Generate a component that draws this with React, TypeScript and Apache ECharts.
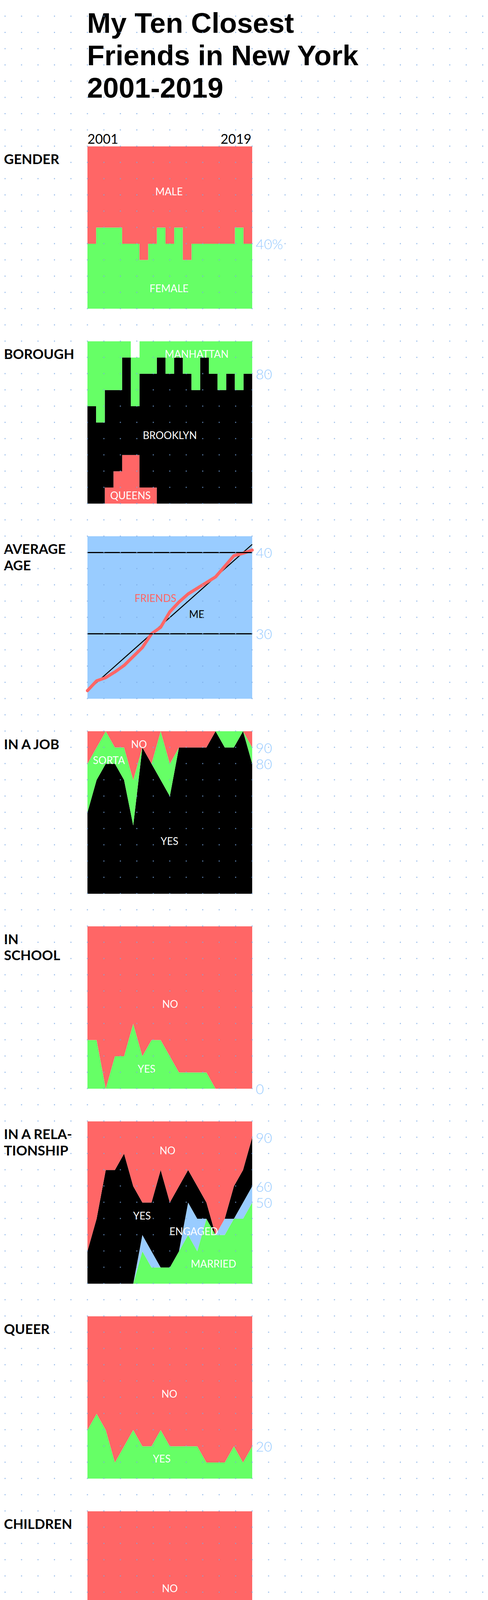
import { useEffect, useRef } from "react";
import * as echarts from "echarts";

// ---- data ----
const years = [
  "2001", "2002", "2003", "2004", "2005", "2006", "2007", "2008", "2009", "2010",
  "2011", "2012", "2013", "2014", "2015", "2016", "2017", "2018", "2019",
];
// band edges for the stepped panels: one more edge than there are years
const yearEdges = [...years, "2020"];

const titleLines = ["My Ten Closest", "Friends in New York", "2001-2019"];

const genderFemale = [40, 50, 50, 50, 40, 40, 30, 40, 50, 40, 50, 30, 40, 40, 40, 40, 40, 50, 40];
const genderMale = [60, 50, 50, 50, 60, 60, 70, 60, 50, 60, 50, 70, 60, 60, 60, 60, 60, 50, 60];
const genderTicks = [40];

const boroughQueens = [0, 0, 10, 20, 30, 30, 10, 10, 0, 0, 0, 0, 0, 0, 0, 0, 0, 0, 0];
const boroughBrooklyn = [60, 50, 60, 50, 60, 30, 70, 70, 90, 80, 90, 80, 70, 90, 80, 70, 80, 70, 80];
const boroughManhattan = [40, 50, 30, 30, 10, 30, 20, 20, 10, 20, 10, 20, 30, 10, 20, 30, 20, 30, 20];
const boroughOther = [0, 0, 0, 0, 0, 10, 0, 0, 0, 0, 0, 0, 0, 0, 0, 0, 0, 0, 0];
const boroughTicks = [80];

const ageMe = [23, 24, 25, 26, 27, 28, 29, 30, 31, 32, 33, 34, 35, 36, 37, 38, 39, 40, 41];
const ageFriends = [23.0, 24.2, 24.6, 25.3, 26.1, 27.2, 28.3, 30.0, 30.8, 32.7, 33.9, 34.9, 35.6, 36.3, 37.0, 38.3, 39.6, 39.9, 40.3];
const ageTicks = [30, 40];

const jobYes = [50, 70, 80, 80, 70, 42, 90, 80, 70, 60, 90, 90, 90, 90, 100, 90, 90, 100, 80];
const jobSorta = [30, 20, 20, 10, 20, 28, 0, 0, 30, 20, 0, 0, 0, 0, 0, 10, 10, 0, 10];
const jobNo = [20, 10, 0, 10, 10, 30, 10, 20, 0, 20, 10, 10, 10, 10, 0, 0, 0, 0, 10];
const jobTicks = [80, 90];

const schoolYes = [30, 30, 0, 20, 20, 40, 20, 30, 30, 20, 10, 10, 10, 10, 0, 0, 0, 0, 0];
const schoolNo = [70, 70, 100, 80, 80, 60, 80, 70, 70, 80, 90, 90, 90, 90, 100, 100, 100, 100, 100];
const schoolTicks = [0];

const relMarried = [0, 0, 0, 0, 0, 0, 20, 10, 10, 10, 20, 30, 20, 40, 30, 30, 40, 40, 50];
const relEngaged = [0, 0, 0, 0, 0, 0, 10, 10, 0, 0, 0, 20, 20, 0, 0, 10, 0, 10, 10];
const relYes = [20, 40, 70, 70, 80, 60, 20, 30, 60, 40, 40, 20, 20, 10, 0, 0, 20, 20, 30];
const relNo = [80, 60, 30, 30, 20, 40, 50, 50, 30, 50, 40, 30, 40, 50, 70, 60, 40, 30, 10];
const relTicks = [50, 60, 90];

const queerYes = [30, 40, 30, 10, 20, 30, 20, 20, 30, 20, 20, 20, 20, 10, 10, 10, 20, 10, 20];
const queerNo = [70, 60, 70, 90, 80, 70, 80, 80, 70, 80, 80, 80, 80, 90, 90, 90, 80, 90, 80];
const queerTicks = [20];

const childYes = [0, 0, 0, 0, 0, 0, 0, 0, 0, 0, 0, 0, 0, 0, 0, 0, 40, 30, 30];
const childNo = [100, 100, 100, 100, 100, 100, 100, 100, 100, 100, 100, 100, 100, 100, 100, 100, 60, 70, 70];
const childTicks = [30];

// ---- styles / layout ----
const RED = "#ff6666";
const GREEN = "#66ff66";
const BLUE = "#99ccff";
const BLACK = "#000000";
const WHITE = "#ffffff";
const FONT = "Lato, 'Noto Sans', sans-serif";
const TITLE_FONT = "'Liberation Sans', Arial, sans-serif";

const PAGE_W = 1250;
const PAGE_H = 4391;
const ROW = 41.6; // dot pattern pitch, vertical
const COL = 42.2; // dot pattern pitch, horizontal
const PLOT_LEFT = 224;
const PLOT_W = 422;
const PLOT_H = 10 * ROW;
const FIRST_TOP = 9 * ROW;
const STEP = 12 * ROW;
const DOT_COLOR = "rgba(120,168,228,0.8)";

const panelTop = (k: number) => FIRST_TOP + STEP * k;

type Inner = [string, number, number, string?];

const panels: {
  label: string[];
  kind: "step" | "area" | "age";
  ticks: number[];
  suffix?: string;
  inner: Inner[];
}[] = [
  { label: ["GENDER"], kind: "step", ticks: genderTicks, suffix: "%", inner: [["MALE", 0.495, 0.278], ["FEMALE", 0.495, 0.875]] },
  { label: ["BOROUGH"], kind: "step", ticks: boroughTicks, inner: [["MANHATTAN", 0.663, 0.077], ["BROOKLYN", 0.5, 0.578], ["QUEENS", 0.261, 0.949]] },
  { label: ["AVERAGE", "AGE"], kind: "age", ticks: ageTicks, inner: [["FRIENDS", 0.413, 0.381, RED], ["ME", 0.663, 0.478, BLACK]] },
  { label: ["IN A JOB"], kind: "area", ticks: jobTicks, inner: [["SORTA", 0.13, 0.178], ["NO", 0.313, 0.08], ["YES", 0.498, 0.676]] },
  { label: ["IN", "SCHOOL"], kind: "area", ticks: schoolTicks, inner: [["NO", 0.502, 0.478], ["YES", 0.359, 0.877]] },
  { label: ["IN A RELA-", "TIONSHIP"], kind: "area", ticks: relTicks, inner: [["NO", 0.486, 0.18], ["YES", 0.331, 0.58], ["ENGAGED", 0.645, 0.676], ["MARRIED", 0.765, 0.877]] },
  { label: ["QUEER"], kind: "area", ticks: queerTicks, inner: [["NO", 0.497, 0.476], ["YES", 0.451, 0.877]] },
  { label: ["CHILDREN"], kind: "area", ticks: childTicks, inner: [["NO", 0.5, 0.474], ["YES", 0.913, 0.878]] },
];

// each year holds its value until the next band edge; the last band closes on the extra edge
const toSteps = (arr: number[]) => arr.concat([arr[arr.length - 1]]);

function stepSeries(k: number, name: string, data: number[], color: string) {
  return {
    type: "line",
    name,
    xAxisIndex: k,
    yAxisIndex: k,
    stack: "s" + k,
    step: "end",
    data: toSteps(data),
    symbol: "none",
    lineStyle: { width: 0 },
    areaStyle: { color, opacity: 1 },
    itemStyle: { color },
    silent: true,
  };
}

function areaSeries(k: number, name: string, data: number[], color: string) {
  return {
    type: "line",
    name,
    xAxisIndex: k,
    yAxisIndex: k,
    stack: "s" + k,
    data,
    symbol: "none",
    lineStyle: { width: 0 },
    areaStyle: { color, opacity: 1 },
    itemStyle: { color },
    silent: true,
  };
}

function text(
  t: string,
  x: number,
  y: number,
  size: number,
  weight: number,
  fill: string,
  align = "left",
  family = FONT
) {
  return {
    type: "text",
    x,
    y,
    silent: true,
    z: 10,
    style: {
      text: t,
      fill,
      fontSize: size,
      fontWeight: weight,
      fontFamily: family,
      align,
      textAlign: align,
      verticalAlign: "middle",
      textVerticalAlign: "middle",
    },
  };
}

function buildOption() {
  const grid: any[] = [];
  const xAxis: any[] = [];
  const yAxis: any[] = [];
  const graphic: any[] = [];

  panels.forEach((p, k) => {
    const top = panelTop(k);
    grid.push({
      left: PLOT_LEFT,
      top,
      width: PLOT_W,
      height: PLOT_H,
      show: p.kind === "age",
      backgroundColor: p.kind === "age" ? BLUE : "transparent",
      borderWidth: 0,
    });
    xAxis.push({
      gridIndex: k,
      type: "category",
      data: p.kind === "step" ? yearEdges : years,
      boundaryGap: false,
      show: false,
    });
    yAxis.push({
      gridIndex: k,
      type: "value",
      min: p.kind === "age" ? 22 : 0,
      max: p.kind === "age" ? 42 : 100,
      position: "right",
      axisLine: { show: false },
      axisTick: { show: false },
      splitLine: { show: false },
      axisLabel: {
        customValues: p.ticks,
        formatter: (v: number) => `${v}${p.suffix ?? ""}`,
        color: BLUE,
        fontSize: 36,
        fontWeight: 300,
        fontFamily: FONT,
        margin: 9,
      },
    });

    p.label.forEach((line, i) => {
      graphic.push(text(line, 10, top + 31.5 + i * ROW, 35, 700, BLACK));
    });
    p.inner.forEach(([t, rx, ry, c]) => {
      graphic.push(text(t, PLOT_LEFT + rx * PLOT_W, top + ry * PLOT_H, 26, 400, c ?? WHITE, "center"));
    });
  });

  // title baselines sit on every second dot row
  titleLines.forEach((line, i) => {
    graphic.push(text(line, PLOT_LEFT - 1, 2 * ROW * (i + 1) - 25, 73, 700, BLACK, "left", TITLE_FONT));
  });
  graphic.push(text(years[0], PLOT_LEFT, FIRST_TOP - 20, 34, 400, BLACK, "left"));
  graphic.push(text(years[years.length - 1], PLOT_LEFT + PLOT_W - 2, FIRST_TOP - 20, 34, 400, BLACK, "right"));

  const series: any[] = [
    stepSeries(0, "Female", genderFemale, GREEN),
    stepSeries(0, "Male", genderMale, RED),

    stepSeries(1, "Queens", boroughQueens, RED),
    stepSeries(1, "Brooklyn", boroughBrooklyn, BLACK),
    stepSeries(1, "Manhattan", boroughManhattan, GREEN),
    stepSeries(1, "Other", boroughOther, WHITE),

    {
      type: "line",
      name: "Me",
      xAxisIndex: 2,
      yAxisIndex: 2,
      data: ageMe,
      symbol: "none",
      lineStyle: { color: BLACK, width: 2.5 },
      silent: true,
      markLine: {
        silent: true,
        symbol: ["none", "none"],
        label: { show: false },
        lineStyle: { color: BLACK, width: 3, type: "solid" },
        data: ageTicks.map((v) => ({ yAxis: v })),
      },
    },
    {
      type: "line",
      name: "Friends",
      xAxisIndex: 2,
      yAxisIndex: 2,
      data: ageFriends,
      symbol: "none",
      lineStyle: { color: RED, width: 8, cap: "round", join: "round" },
      silent: true,
    },

    areaSeries(3, "Yes", jobYes, BLACK),
    areaSeries(3, "Sorta", jobSorta, GREEN),
    areaSeries(3, "No", jobNo, RED),

    areaSeries(4, "Yes", schoolYes, GREEN),
    areaSeries(4, "No", schoolNo, RED),

    areaSeries(5, "Married", relMarried, GREEN),
    areaSeries(5, "Engaged", relEngaged, BLUE),
    areaSeries(5, "Yes", relYes, BLACK),
    areaSeries(5, "No", relNo, RED),

    areaSeries(6, "Yes", queerYes, GREEN),
    areaSeries(6, "No", queerNo, RED),

    areaSeries(7, "Yes", childYes, GREEN),
    areaSeries(7, "No", childNo, RED),
  ];

  return {
    animation: false,
    backgroundColor: "transparent",
    grid,
    xAxis,
    yAxis,
    series,
    graphic,
  };
}

export default function App() {
  const ref = useRef<HTMLDivElement>(null);

  useEffect(() => {
    if (!ref.current) return;
    const chart = echarts.init(ref.current, undefined, { renderer: "svg" });
    chart.setOption(buildOption());
    return () => {
      chart.dispose();
    };
  }, []);

  // dot pattern: a dot on every plot corner, one every COL x ROW
  const dotOffX = PLOT_LEFT - COL / 2 - 6 * COL;

  // in normal flow, the -8px margin cancels the body margin so the page is exactly PAGE_W x PAGE_H
  return (
    <div
      style={{
        position: "relative",
        margin: -8,
        width: PAGE_W,
        height: PAGE_H,
        background: "#ffffff",
        overflow: "hidden",
      }}
    >
      <div ref={ref} style={{ position: "absolute", left: 0, top: 0, width: PAGE_W, height: PAGE_H }} />
      <div
        style={{
          position: "absolute",
          left: 0,
          top: -ROW / 2,
          width: PAGE_W,
          height: PAGE_H + ROW / 2,
          pointerEvents: "none",
          backgroundImage: `radial-gradient(circle, ${DOT_COLOR} 0, ${DOT_COLOR} 1.3px, rgba(0,0,0,0) 1.8px)`,
          backgroundSize: `${COL}px ${ROW}px`,
          backgroundPosition: `${dotOffX}px 0px`,
        }}
      />
    </div>
  );
}
